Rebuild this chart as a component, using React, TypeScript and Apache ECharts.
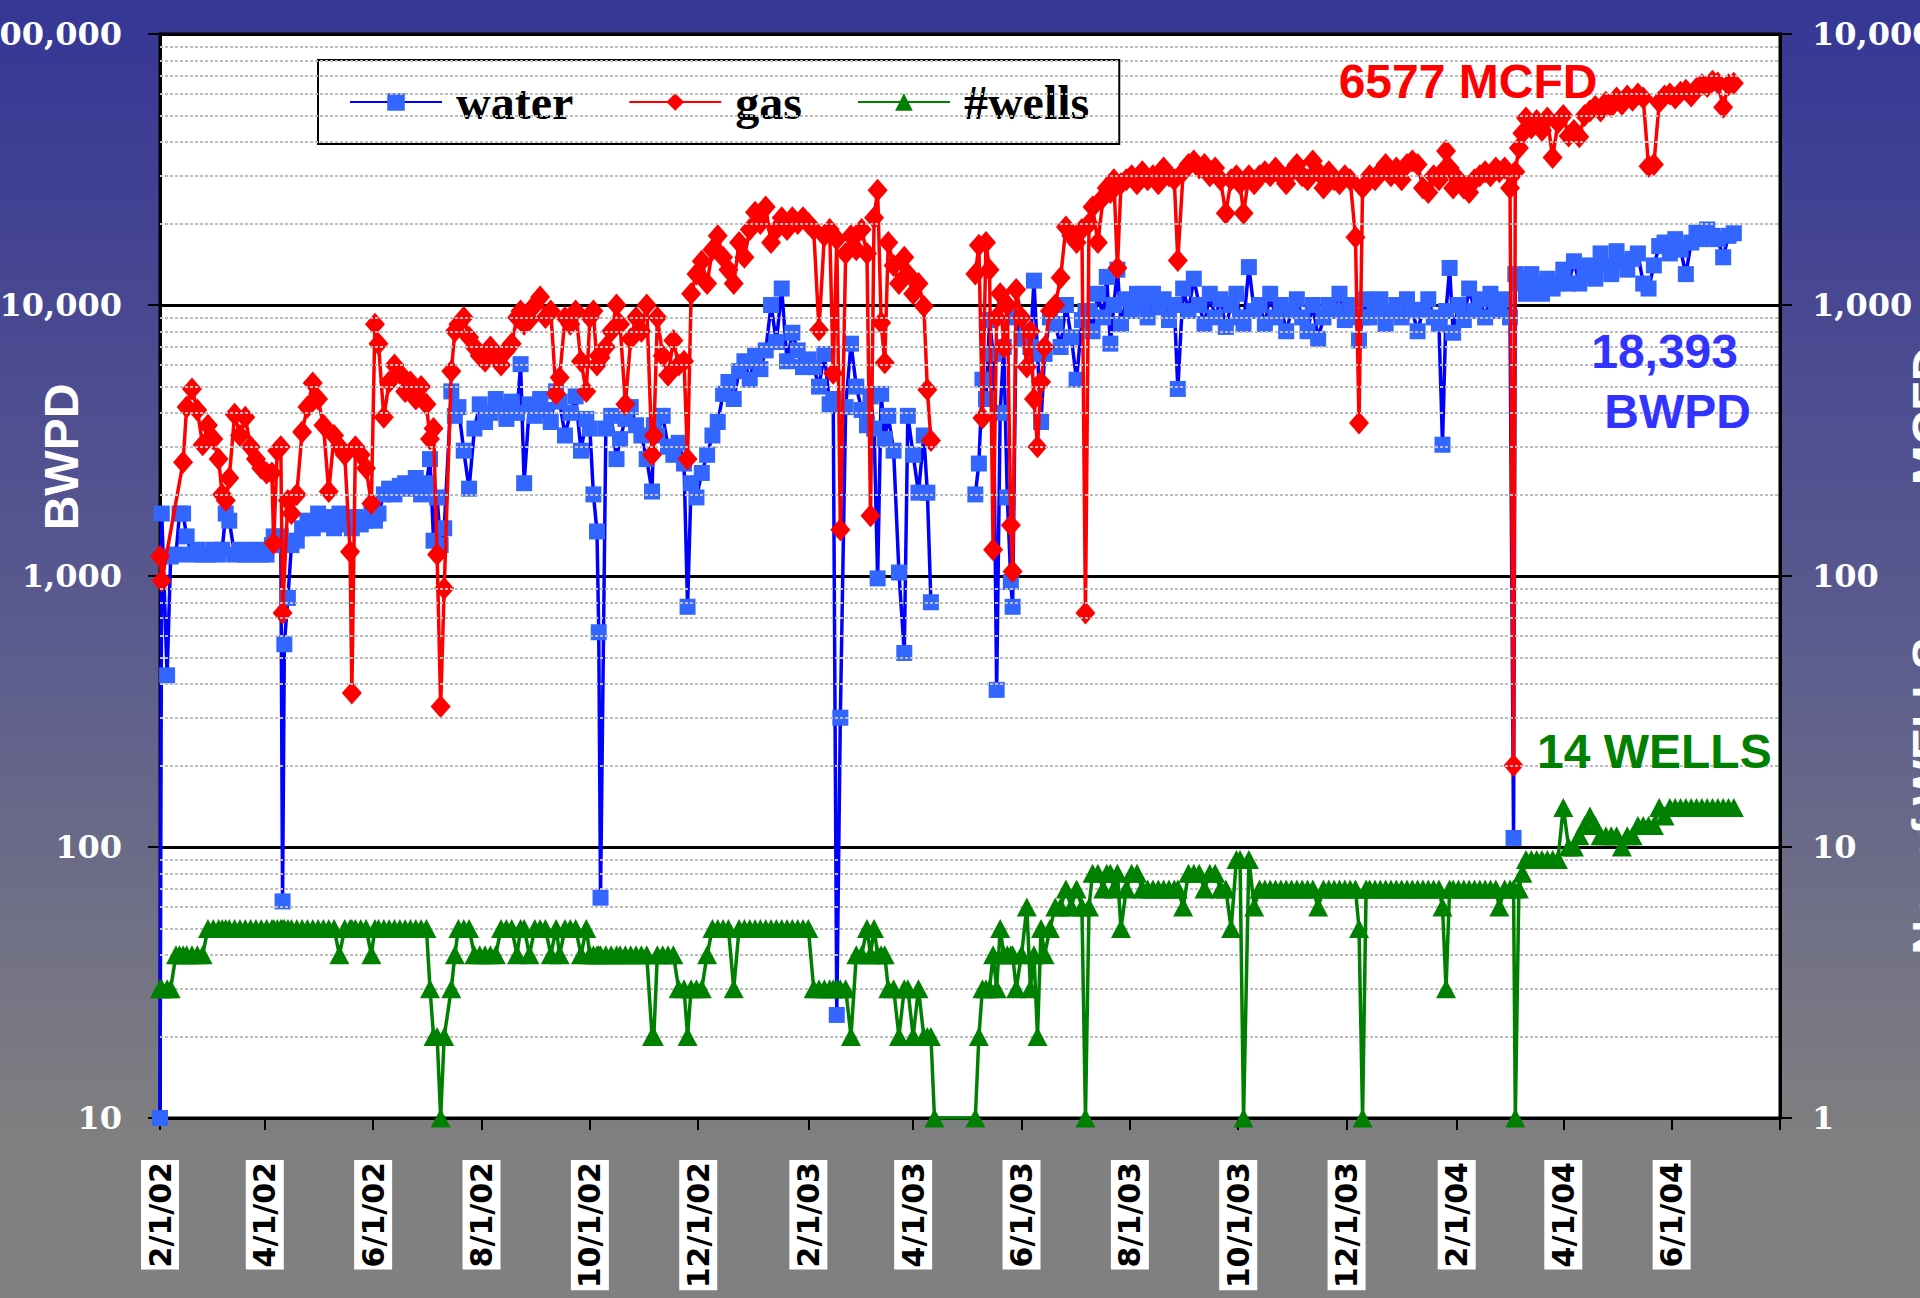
import React, { useEffect, useRef } from "react";
import * as echarts from "echarts";

// ---- x axis (days since 2/1/02) ----
const tickDays = [0, 59, 120, 181, 242, 303, 365, 424, 485, 546, 607, 668, 730, 790, 851, 912];
const tickLabels = ["2/1/02", "4/1/02", "6/1/02", "8/1/02", "10/1/02", "12/1/02", "2/1/03", "4/1/03", "6/1/03", "8/1/03", "10/1/03", "12/1/03", "2/1/04", "4/1/04", "6/1/04"];

// minor (dotted) grid values on the BWPD axis
const minorGrid = [20, 30, 40, 50, 60, 70, 80, 90, 200, 300, 400, 500, 600, 700, 800, 900, 2000, 3000, 4000, 5000, 6000, 7000, 8000, 9000, 20000, 30000, 40000, 50000, 60000, 70000, 80000, 90000];

// ---- data: day offsets since 2/1/02 ----
const days = [
  0, 1, 4, 6, 9, 11, 13, 15, 18, 21, 24, 27, 30,
  33, 35, 37, 39, 42, 45, 48, 51, 54, 57, 60, 63, 64, 66, 68, 69, 70, 72, 74, 77,
  80, 83, 86, 89, 92, 95, 98, 101, 104, 107, 108, 110, 113, 116, 119, 121, 123,
  126, 129, 132, 135, 138, 141, 144, 147, 150, 152, 154, 156, 158, 160,
  164, 166, 168, 171, 174, 177, 180, 183, 186, 189, 192, 195, 198, 201, 203, 205, 208, 211, 214, 217, 220, 223, 225, 228, 231, 234, 237, 240, 242, 244, 246, 247, 248,
  251, 254, 257, 259, 262, 265, 268, 271, 274, 277, 278, 280, 283, 286, 289, 292, 295, 297, 299,
  302, 305, 308, 311, 314, 317, 320, 323, 326, 329, 332, 335, 338, 341, 344, 347, 350, 353, 356, 359, 362,
  365, 368, 371, 374, 377, 379, 381, 383, 386, 389, 392, 395, 398, 400, 402, 404, 406, 408, 410, 413, 416, 419, 421, 424, 427, 430, 432, 434, 436,
  459, 461, 463, 465, 467, 469, 471, 473, 475, 477, 479, 480, 482, 485, 488, 490, 492, 494, 496, 498, 501, 504, 507, 510, 513, 516, 519, 521,
  523, 525, 528, 531, 533, 535, 537, 539, 541, 544, 547, 550, 553, 556, 559, 562, 565, 568, 571, 573, 576, 579, 582, 585, 588, 591, 594, 597, 600, 603, 606, 608, 610,
  613, 616, 619, 622, 625, 628, 631, 634, 637, 640, 643, 646, 649, 652, 655, 658, 661, 664, 667, 670, 673, 675, 677, 679, 681, 684, 687, 690, 693, 696, 699, 702, 705, 708, 711, 714, 717, 720, 722, 724, 726, 728,
  731, 734, 737, 740, 743, 746, 749, 752, 754, 757, 760, 762, 763, 765, 767, 769, 772, 775, 778, 781, 784, 787, 790,
  793, 796, 799, 802, 805, 808, 811, 814, 817, 820, 823, 826, 829, 832, 835, 838, 841, 844, 847, 850, 853, 856, 859, 862, 865, 868, 871, 874, 877, 880, 883, 886,
];

// water, BWPD (0 = shut in, line broken)
const water = [
  10, 1700, 430, 1180, 1200, 1700, 1700, 1400, 1200, 1250, 1200, 1200, 1250,
  1200, 1250, 1700, 1600, 1200, 1250, 1200, 1200, 1250, 1200, 1200, 1300, 1400, 1350, 1400, 63, 560, 830, 1300, 1350,
  1500, 1600, 1500, 1700, 1550, 1650, 1500, 1700, 1550, 1600, 1500, 1650, 1550, 1600, 1750, 1600, 1700,
  2000, 2100, 2000, 2150, 2200, 2100, 2300, 2000, 2200, 2700, 1350, 1950, 1300, 1500,
  4800, 3900, 4200, 2900, 2100, 3500, 4300, 3700, 4000, 4500, 4200, 3800, 4400, 4000, 6050, 2200, 4300, 3900, 4500, 4100, 3700, 4800, 4400, 3300, 4000, 4600, 2900, 3800, 3500, 2000, 1460, 620, 65,
  3500, 3900, 2700, 3200, 3800, 4200, 3600, 3300, 2700, 2050, 3600, 3300, 3900, 3000, 2800, 3100, 2600, 770, 2200,
  1950, 2400, 2800, 3300, 3700, 4700, 5200, 4500, 5700, 6200, 5300, 6500, 5800, 6800, 10000, 7300, 11500, 6200, 7900, 6800, 5900,
  6300, 5900, 5000, 6600, 4300, 4500, 24, 300, 4200, 7200, 5000, 4100, 3600, 4600, 3500, 980, 4700, 3200, 3900, 2900, 1030, 520, 3900, 2800, 2030, 3300, 2030, 800, 0,
  2000, 2600, 5300, 4500, 8800, 6600, 380, 4000, 7000, 1950, 950, 770, 9000, 7500, 8000, 7000, 12300, 6600, 3700, 6600, 9000, 8500, 7000, 10000, 7600, 5300, 8800, 9500,
  9500, 8000, 11000, 9000, 12700, 7200, 10000, 13500, 8500, 10500, 9500, 11000, 10000, 9000, 11000, 9800, 10500, 8800, 10000, 4900, 11500, 9500, 12500, 10000, 8500, 11000, 9000, 10500, 8300, 10000, 11000, 9000, 8500,
  13800, 9500, 10000, 8500, 11000, 9000, 10000, 8000, 9500, 10500, 9000, 8000, 10000, 7500, 9000, 10000, 9500, 11000, 8800, 10000, 9000, 7400, 9000, 10500, 9000, 9700, 10500, 8500, 9500, 10000, 9000, 10500, 9500, 8000, 9600, 10500, 9000, 8500, 3050, 9500, 13700, 7900,
  10000, 8800, 11500, 9500, 10500, 9000, 11000, 10000, 9500, 10500, 9000, 108, 13000, 12000, 12500, 11000, 13000, 12000, 11000, 12500, 11500, 12000, 13500,
  12000, 14500, 12000, 13000, 14000, 12500, 15500, 14000, 13000, 15800, 14500, 13500, 14800, 15500, 12000, 11500, 14000, 16500, 17000, 15500, 17500, 16000, 13000, 17000, 18500, 17500, 19000, 18000, 17500, 15000, 18000, 18393,
];

// gas, MCFD (null = no reading, 0 = shut in)
const gas = [
  118, 96, null, null, null, null, 263, 420, 490, 410, 305, 360, 320,
  270, 200, 190, 230, 395, 330, 385, 300, 270, 250, 240, 240, 132, 290, 300, 73, null, 190, 170, 200,
  340, 420, 515, 450, 360, 205, 330, 300, 280, 123, 37, 300, 280, 250, 185, 850, 720,
  385, 520, 600, 560, 480, 520, 450, 500, 430, 320, 350, 120, 33, 90,
  570, 800, 850, 900, 760, 700, 650, 620, 700, 640, 600, 680, 720, 900, 950, 850, 880, 1000, 1070, 900, 950, 470, 540, 900, 850, 950, 620, 480, 900, 950, 600, 650, 640,
  700, 800, 1000, 850, 430, 750, 900, 800, 1000, 280, 330, 900, 650, 550, 740, 600, 620, 270, 1100,
  1300, 1450, 1200, 1600, 1800, 1500, 1350, 1200, 1700, 1500, 1900, 2200, 2000, 2300, 1700, 1900, 2100, 1900, 2100, 2000, 2100,
  2000, 1900, 808, 1800, 1900, 560, 1750, 148, 1550, 1800, 1600, 1900, 1550, 167, 2100, 2650, 860, 612, 1700, 1400, 1200, 1500, 1300, 1100, 1200, 990, 487, 316, 0,
  1300, 1660, 383, 1700, 1350, 125, 900, 1100, 700, 1000, 154, 104, 1140, 900, 590, 800, 450, 300, 520, 700, 950, 1000, 1260, 1940, 1800, 1700, 1900, 73,
  2000, 2300, 1700, 2500, 2700, 2600, 2900, 1370, 2800, 2900, 3000, 2800, 3100, 2900, 3000, 2800, 3200, 3000, 2900, 1460, 3100, 3300, 3400, 3200, 3300, 3000, 3200, 2900, 2180, 2900, 3000, 2800, 2180,
  3000, 2800, 3000, 3100, 3000, 3200, 3000, 2800, 3100, 3300, 3000, 2900, 3400, 3100, 2700, 3100, 2900, 2800, 3000, 2900, 1780, 367, 2700, 2800, 3000, 2900, 3100, 3300, 3000, 3200, 2900, 3300, 3400, 3300, 2700, 2600, 3000, 2900, 3100, 3700, 3200, 2700,
  2900, 2700, 2600, 2900, 3000, 3100, 3000, 3200, 3100, 3200, 2700, 20, 3100, 3800, 4300, 4900, 4500, 4800, 4400, 4900, 3500, 4700, 5000,
  4200, 4400, 4180, 5000, 5200, 5400, 5200, 5600, 5400, 5800, 5500, 5900, 5700, 6000, 5800, 3250, 3300, 5600, 5900, 6000, 5800, 6100, 6200, 5900, 6300, 6500, 6400, 6700, 6600, 5370, 6500, 6577,
];

// number of producing wells
const wells = [
  3, 3, 3, 3, 4, 4, 4, 4, 4, 4, 4, 5, 5,
  5, 5, 5, 5, 5, 5, 5, 5, 5, 5, 5, 5, 5, 5, 5, 5, 5, 5, 5, 5,
  5, 5, 5, 5, 5, 5, 5, 4, 5, 5, 5, 5, 5, 5, 4, 5, 5,
  5, 5, 5, 5, 5, 5, 5, 5, 5, 3, 2, 2, 1, 2,
  3, 4, 5, 5, 5, 4, 4, 4, 4, 4, 5, 5, 5, 4, 5, 5, 4, 5, 5, 5, 4, 5, 4, 5, 5, 5, 4, 5, 4, 4, 4, 4, 4,
  4, 4, 4, 4, 4, 4, 4, 4, 4, 2, 2, 4, 4, 4, 4, 3, 3, 2, 3,
  3, 3, 4, 5, 5, 5, 5, 3, 5, 5, 5, 5, 5, 5, 5, 5, 5, 5, 5, 5, 5,
  5, 3, 3, 3, 3, 3, 3, 3, 3, 2, 4, 4, 5, 4, 5, 4, 4, 4, 3, 3, 2, 3, 3, 2, 3, 2, 2, 2, 1,
  1, 2, 3, 3, 3, 4, 3, 5, 4, 4, 4, 4, 3, 4, 6, 3, 4, 2, 5, 4, 5, 6, 6, 7, 6, 7, 6, 1,
  6, 8, 8, 7, 8, 8, 7, 8, 5, 7, 8, 8, 7, 7, 7, 7, 7, 7, 7, 7, 6, 8, 8, 8, 7, 8, 8, 7, 7, 5, 9, 9, 1,
  9, 6, 7, 7, 7, 7, 7, 7, 7, 7, 7, 7, 7, 6, 7, 7, 7, 7, 7, 7, 7, 5, 1, 7, 7, 7, 7, 7, 7, 7, 7, 7, 7, 7, 7, 7, 7, 7, 6, 3, 7, 7,
  7, 7, 7, 7, 7, 7, 7, 7, 6, 7, 7, 7, 1, 7, 8, 9, 9, 9, 9, 9, 9, 9, 14,
  10, 10, 11, 12, 13, 12, 11, 11, 11, 11, 10, 11, 11, 12, 12, 12, 12, 14, 13, 14, 14, 14, 14, 14, 14, 14, 14, 14, 14, 14, 14, 14,
];

const seriesNames = ["water", "gas", "#wells"];

function toPairs(vals: (number | null)[]) {
  const n = Math.min(days.length, vals.length);
  const out: any[] = [];
  for (let i = 0; i < n; i++) {
    const v = vals[i];
    if (v === null || v === undefined) continue;
    out.push(v === 0 ? [days[i], "-"] : [days[i], v]);
  }
  return out;
}

const fmt = (v: number) => String(Math.round(v)).replace(/\B(?=(\d{3})+(?!\d))/g, ",");

const SANS = '"Liberation Sans", Arial, sans-serif';
const SERIF_AX = '"DejaVu Serif", serif';
const SERIF_LEG = '"Liberation Serif", "Times New Roman", serif';

export default function App() {
  const ref = useRef<HTMLDivElement>(null);
  useEffect(() => {
    if (!ref.current) return;
    const chart = echarts.init(ref.current, undefined, { renderer: "svg" });
    const labelDays = tickDays.slice(0, tickLabels.length);
    const option: any = {
      animation: false,
      backgroundColor: {
        type: "linear", x: 0, y: 0, x2: 0, y2: 1,
        colorStops: [
          { offset: 0, color: "#363696" },
          { offset: 0.5, color: "#5c5c8e" },
          { offset: 0.88, color: "#808080" },
          { offset: 1, color: "#808080" },
        ],
      },
      grid: {
        left: 160, top: 34, width: 1620, height: 1084,
        show: true, backgroundColor: "#fff", borderColor: "#000", borderWidth: 3,
        containLabel: false, outerBoundsMode: "none",
      },
      legend: {
        data: seriesNames,
        left: 318, top: 60,
        orient: "horizontal",
        backgroundColor: "#fff", borderColor: "#000", borderWidth: 2,
        padding: [18, 30, 18, 31],
        itemGap: 55, itemWidth: 92, itemHeight: 22,
        textStyle: { fontFamily: SERIF_LEG, fontWeight: "bold", fontSize: 48, color: "#000", padding: [0, 0, 0, 9] },
        selectedMode: false,
      },
      xAxis: {
        type: "value", min: 0, max: 912,
        axisLine: { show: true, lineStyle: { color: "#000", width: 3 } },
        axisTick: { show: true, customValues: tickDays, length: 12, lineStyle: { color: "#000", width: 2 } },
        axisLabel: {
          customValues: labelDays,
          formatter: (v: number) => { const i = tickDays.indexOf(Math.round(v)); return i >= 0 && i < tickLabels.length ? tickLabels[i] : ""; },
          rotate: 90, margin: 42,
          fontFamily: '"DejaVu Sans", sans-serif', fontWeight: "bold", fontSize: 30, color: "#000",
          backgroundColor: "#fff", padding: [4, 2, 4, 2],
        },
        splitLine: { show: false },
      },
      yAxis: [
        {
          type: "log", logBase: 10, min: 10, max: 100000, position: "left",
          axisLine: { show: true, lineStyle: { color: "#000", width: 3 } },
          axisTick: { show: true, length: 12, lineStyle: { color: "#000", width: 2 } },
          axisLabel: { formatter: fmt, color: "#fff", fontFamily: SERIF_AX, fontWeight: "bold", fontSize: 32, margin: 38 },
          splitLine: { show: true, lineStyle: { color: "#000", width: 3 } },
        },
        {
          type: "log", logBase: 10, min: 1, max: 10000, position: "right",
          axisLine: { show: true, lineStyle: { color: "#000", width: 3 } },
          axisTick: { show: true, length: 12, lineStyle: { color: "#000", width: 2 } },
          axisLabel: { formatter: fmt, color: "#fff", fontFamily: SERIF_AX, fontWeight: "bold", fontSize: 32, margin: 32 },
          splitLine: { show: false },
        },
      ],
      series: [
        {
          name: "minor-grid", type: "line", yAxisIndex: 0, data: [], silent: true, z: 1,
          markLine: {
            silent: true, symbol: ["none", "none"], label: { show: false }, animation: false,
            lineStyle: { color: "#bdbdbd", type: [3, 2], width: 2 },
            data: minorGrid.map((v) => ({ yAxis: v })),
          },
        },
        {
          name: "water", type: "line", yAxisIndex: 0, data: toPairs(water), z: 3,
          symbol: "rect", symbolSize: 16, showSymbol: true, showAllSymbol: true, connectNulls: false,
          lineStyle: { color: "#0000ff", width: 3.5 }, itemStyle: { color: "#3366ff" },
        },
        {
          name: "gas", type: "line", yAxisIndex: 1, data: toPairs(gas), z: 4,
          symbol: "diamond", symbolSize: [20, 23], showSymbol: true, showAllSymbol: true, connectNulls: false,
          lineStyle: { color: "#ff0000", width: 3.5 }, itemStyle: { color: "#ff0000" },
        },
        {
          name: "#wells", type: "line", yAxisIndex: 1, data: toPairs(wells), z: 5,
          symbol: "triangle", symbolSize: [20, 19], showSymbol: true, showAllSymbol: true,
          lineStyle: { color: "#008000", width: 3.5 }, itemStyle: { color: "#008000" },
        },
      ],
      graphic: [
        { type: "text", x: 61, y: 457, rotation: Math.PI / 2, style: { text: "BWPD", fill: "#fff", font: `bold 48px ${SANS}`, textAlign: "center", textVerticalAlign: "middle" } },
        { type: "text", x: 1929, y: 416, rotation: Math.PI / 2, style: { text: "MCFD", fill: "#fff", font: `bold 48px ${SANS}`, textAlign: "center", textVerticalAlign: "middle" } },
        { type: "text", x: 1929, y: 796, rotation: Math.PI / 2, style: { text: "No. of WELLS", fill: "#fff", font: `bold 48px ${SANS}`, textAlign: "center", textVerticalAlign: "middle" } },
        { type: "text", x: 1468, y: 81, z: 10, style: { text: "6577 MCFD", fill: "#ff0000", font: `bold 48px ${SANS}`, textAlign: "center", textVerticalAlign: "middle" } },
        { type: "text", x: 1738, y: 351, z: 10, style: { text: "18,393", fill: "#3333ff", font: `bold 48px ${SANS}`, textAlign: "right", textVerticalAlign: "middle" } },
        { type: "text", x: 1751, y: 411, z: 10, style: { text: "BWPD", fill: "#3333ff", font: `bold 48px ${SANS}`, textAlign: "right", textVerticalAlign: "middle" } },
        { type: "text", x: 1537, y: 751, z: 10, style: { text: "14 WELLS", fill: "#008000", font: `bold 48px ${SANS}`, textAlign: "left", textVerticalAlign: "middle" } },
      ],
    };
    chart.setOption(option);
    return () => chart.dispose();
  }, []);
  return <div ref={ref} style={{ position: "absolute", left: 0, top: 0, width: 1920, height: 1298 }} />;
}
